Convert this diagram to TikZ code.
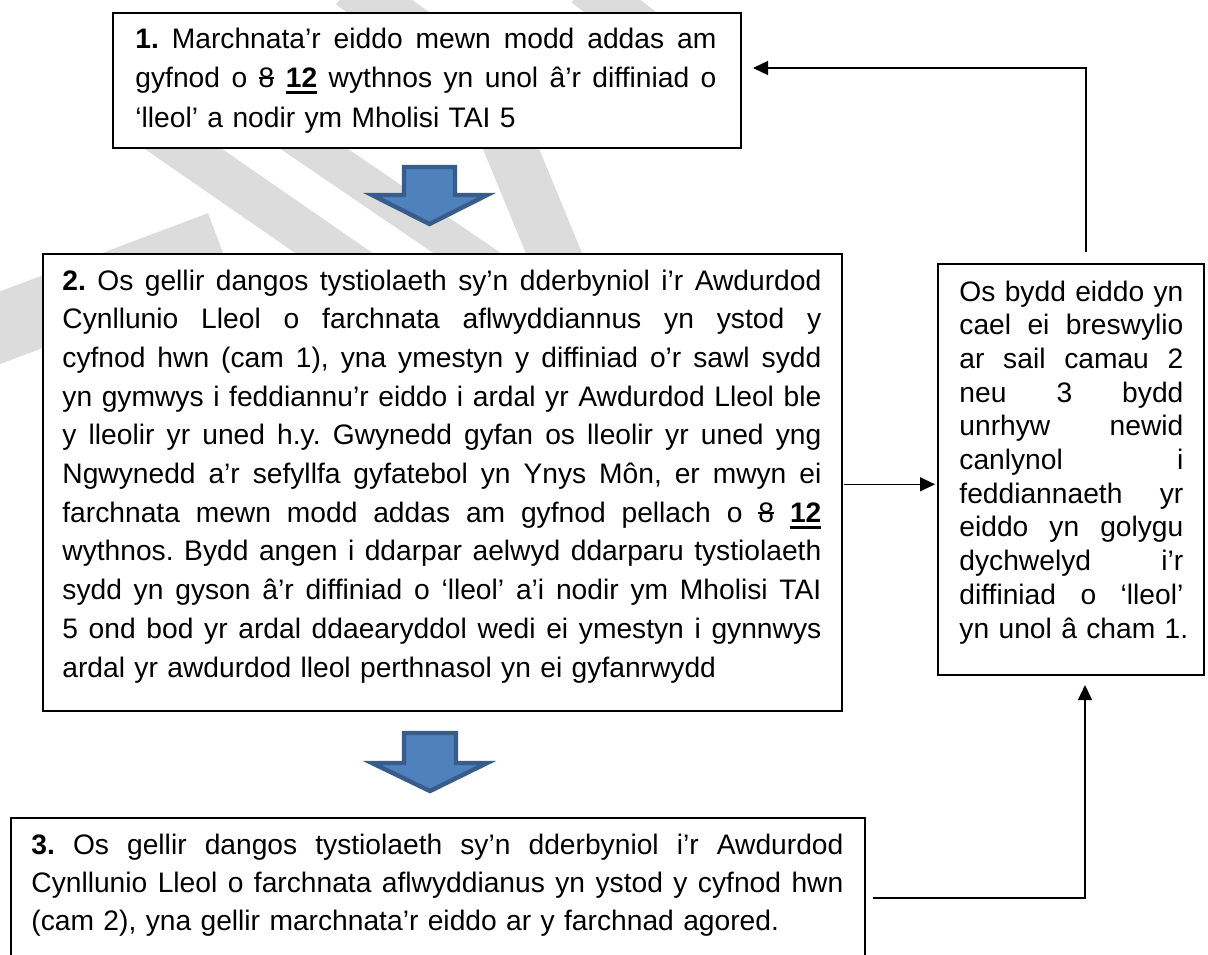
\documentclass[tikz,border=0pt]{standalone}
\usepackage{fontspec}
\setmainfont{Liberation Sans}
\usetikzlibrary{arrows.meta}
\definecolor{arrowfill}{HTML}{4F81BD}
\definecolor{arrowline}{HTML}{385D8A}
\definecolor{wm}{HTML}{DCDCDC}
\frenchspacing
\newcommand\strk[1]{\setbox0\hbox{#1}\rlap{\rule[4.3pt]{\wd0}{0.8pt}}\box0\relax}
\newcommand\ulbold[1]{\setbox0\hbox{\textbf{#1}}\rlap{\rule[-3.4pt]{\wd0}{1.7pt}}\box0\relax}
\newcommand\jline[1]{\leavevmode\hbox to\hsize{\spaceskip=\fontdimen2\font plus 1fil\relax #1}\\}
\newcommand\lastline[1]{\leavevmode\mbox{#1}}
\begin{document}
\begin{tikzpicture}[x=0.5pt,y=-0.5pt,
  box/.style={draw=black,line width=1pt,fill=white,inner sep=0pt,anchor=north west},
  txt/.style={inner sep=0pt,anchor=base west},
  conn/.style={line width=0.65pt,-{Triangle[length=7.5pt,width=7pt]}},
  bluearrow/.style={fill=arrowfill,draw=arrowline,line width=2.2pt,line join=miter},
  wmband/.style={draw=wm,line cap=butt}]
\useasboundingbox (0,0) rectangle (1208,954);
\fill[white] (0,0) rectangle (1208,954);
\clip (0,0) rectangle (1208,954);

% faint watermark strokes behind the boxes
\draw[wmband,line width=22pt] (130,112) -- (370,278);
\draw[wmband,line width=19pt] (260,112) -- (495,272);
\draw[wmband,line width=26pt] (495,110) -- (565,280);
\draw[wmband,line width=34pt] (-30,339) -- (220,245);
\draw[wmband,line width=24pt] (350,-15) -- (420,35);
\draw[wmband,line width=22pt] (585,-15) -- (650,35);

% boxes
\node[box,minimum width=314pt,minimum height=67.5pt] (b1) at (112,12) {};
\node[box,minimum width=399.5pt,minimum height=228.5pt] (b2) at (42,253) {};
\node[box,minimum width=427pt,minimum height=79pt] (b3) at (10,817) {};
\node[box,minimum width=133pt,minimum height=205.5pt] (rb) at (937,263) {};

% texts
\node[txt,text width=290.5pt,font=\fontsize{14.1}{19.75}\selectfont] (t1) at (135,48) {%
\jline{\textbf{1.} Marchnata’r eiddo mewn modd addas am}%
\jline{gyfnod o \strk{8} \ulbold{12} wythnos yn unol â’r diffiniad o}%
\lastline{‘lleol’ a nodir ym Mholisi TAI 5}};

\node[txt,text width=379.5pt,font=\fontsize{14.1}{19.35}\selectfont] (t2) at (62,290) {%
\jline{\textbf{2.} Os gellir dangos tystiolaeth sy’n dderbyniol i’r Awdurdod}%
\jline{Cynllunio Lleol o farchnata aflwyddiannus yn ystod y}%
\jline{cyfnod hwn (cam 1), yna ymestyn y diffiniad o’r sawl sydd}%
\jline{yn gymwys i feddiannu’r eiddo i ardal yr Awdurdod Lleol ble}%
\jline{y lleolir yr uned h.y. Gwynedd gyfan os lleolir yr uned yng}%
\jline{Ngwynedd a’r sefyllfa gyfatebol yn Ynys Môn, er mwyn ei}%
\jline{farchnata mewn modd addas am gyfnod pellach o \strk{8} \ulbold{12}}%
\jline{wythnos. Bydd angen i ddarpar aelwyd ddarparu tystiolaeth}%
\jline{sydd yn gyson â’r diffiniad o ‘lleol’ a’i nodir ym Mholisi TAI}%
\jline{5 ond bod yr ardal ddaearyddol wedi ei ymestyn i gynnwys}%
\lastline{ardal yr awdurdod lleol perthnasol yn ei gyfanrwydd}};

\node[txt,text width=406pt,font=\fontsize{14.1}{19}\selectfont] (t3) at (31,854) {%
\jline{\textbf{3.} Os gellir dangos tystiolaeth sy’n dderbyniol i’r Awdurdod}%
\jline{Cynllunio Lleol o farchnata aflwyddianus yn ystod y cyfnod hwn}%
\lastline{(cam 2), yna gellir marchnata’r eiddo ar y farchnad agored.}};

\node[txt,text width=112pt,font=\fontsize{14.1}{16.85}\selectfont] (trb) at (959,301) {%
\jline{Os bydd eiddo yn}%
\jline{cael ei breswylio}%
\jline{ar sail camau 2}%
\jline{neu 3 bydd}%
\jline{unrhyw newid}%
\jline{canlynol i}%
\jline{feddiannaeth yr}%
\jline{eiddo yn golygu}%
\jline{dychwelyd i’r}%
\jline{diffiniad o ‘lleol’}%
\lastline{yn unol â cham 1.}};

% block arrows
\filldraw[bluearrow] (404,167) -- (455,167) -- (455,195) -- (487,195) -- (429.5,224) -- (372,195) -- (404,195) -- cycle;
\filldraw[bluearrow] (404,733) -- (456,733) -- (456,763) -- (487,763) -- (430,791) -- (372,763) -- (404,763) -- cycle;

% connectors
\draw[conn] ([xshift=7.5pt,yshift=5.5pt]rb.north) |- ([xshift=5.5pt,yshift=6.25pt]b1.east);
\draw[conn] ([xshift=0.5pt,yshift=-0.9pt]b2.east) -- ([xshift=-1pt,yshift=-0.9pt]b2.east -| rb.west);
\draw[conn] ([xshift=3.5pt,yshift=-0.5pt]b3.east) -| ([xshift=7pt,yshift=-4.5pt]rb.south);
\end{tikzpicture}
\end{document}
